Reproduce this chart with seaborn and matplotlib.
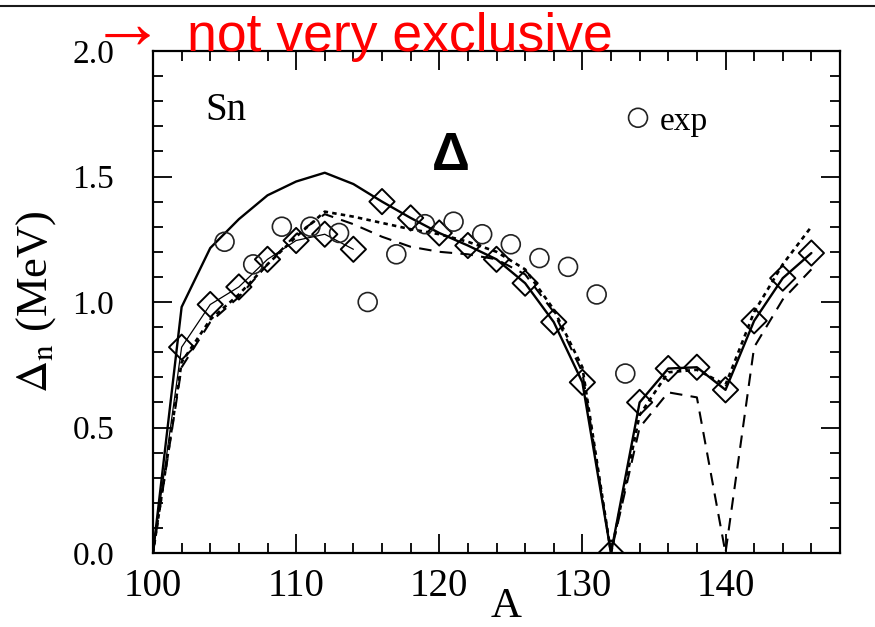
import numpy as np
import pandas as pd
import matplotlib
matplotlib.use("Agg")
import matplotlib.pyplot as plt
from matplotlib.lines import Line2D
from matplotlib.ticker import MultipleLocator
import seaborn as sns

# ---------------- data ----------------
A_grid = [100, 102, 104, 106, 108, 110, 112, 114, 116, 118, 120, 122,
          124, 126, 128, 130, 132, 134, 136, 138, 140, 142, 144, 146]
thick_solid = [0.0, 0.98, 1.215, 1.33, 1.425, 1.48, 1.515, 1.47, 1.40, 1.335,
               1.275, 1.225, 1.17, 1.075, 0.92, 0.68, 0.0, 0.60, 0.735, 0.74,
               0.65, 0.925, 1.095, 1.195]
dotted = [0.0, 0.76, 0.93, 1.03, 1.15, 1.26, 1.36, 1.34, 1.315, 1.29, 1.27,
          1.24, 1.20, 1.13, 0.97, 0.74, 0.0, 0.55, 0.72, 0.73, 0.67, 0.96,
          1.15, 1.30]
dashed = [0.0, 0.74, 0.92, 1.02, 1.15, 1.27, 1.35, 1.31, 1.26, 1.22, 1.20,
          1.19, 1.17, 1.11, 0.96, 0.72, 0.0, 0.50, 0.64, 0.62, 0.0, 0.82,
          1.01, 1.13]

A_thin = [100, 102, 104, 106, 108, 110, 112, 114]
thin_solid = [0.0, 0.82, 0.99, 1.06, 1.17, 1.245, 1.27, 1.21]

A_diam = [102, 104, 106, 108, 110, 112, 114, 116, 118, 120, 122, 124,
          126, 128, 130, 132, 134, 136, 138, 140, 142, 144, 146]
diamonds = [0.82, 0.99, 1.06, 1.17, 1.245, 1.27, 1.21, 1.40, 1.335, 1.275,
            1.225, 1.17, 1.075, 0.92, 0.68, 0.0, 0.60, 0.735, 0.74, 0.65,
            0.925, 1.095, 1.195]

A_exp = [105, 107, 109, 111, 113, 115, 117, 119, 121, 123, 125, 127, 129,
         131, 133]
exp_vals = [1.24, 1.15, 1.30, 1.30, 1.275, 1.00, 1.19, 1.31, 1.32, 1.27,
            1.23, 1.175, 1.14, 1.03, 0.715]

x_ticks = [100, 110, 120, 130, 140]
y_ticks = [0.0, 0.5, 1.0, 1.5, 2.0]

# ---------------- style ----------------
sns.set_theme(style="ticks")
plt.rcParams["font.family"] = ["Liberation Serif", "DejaVu Serif"]
plt.rcParams["mathtext.fontset"] = "stix"

fig = plt.figure(figsize=(8.75, 6.27), dpi=100)
ax = fig.add_axes([153 / 875, 1 - 553 / 627, (840 - 153) / 875, (553 - 51) / 627])

sns.lineplot(x=A_grid, y=thick_solid, ax=ax, color="black", linewidth=1.7,
             linestyle="-")
sns.lineplot(x=A_grid, y=dotted, ax=ax, color="black", linewidth=1.9,
             linestyle=(0, (1.7, 1.6)))
sns.lineplot(x=A_grid, y=dashed, ax=ax, color="black", linewidth=1.5,
             linestyle=(0, (6, 4)))
sns.lineplot(x=A_thin, y=thin_solid, ax=ax, color="black", linewidth=0.9,
             linestyle="-")
sns.scatterplot(x=A_diam, y=diamonds, ax=ax, marker="D", s=165,
                facecolor="none", edgecolor="black", linewidth=1.4, zorder=5)
sns.scatterplot(x=A_exp, y=exp_vals, ax=ax, marker="o", s=185,
                facecolor="none", edgecolor="#222222", linewidth=1.2, zorder=5)

ax.set_xlim(100, 148)
ax.set_ylim(0, 2.0)
ax.set_xticks(x_ticks)
ax.set_yticks(y_ticks)
ax.set_yticklabels([f"{v:.1f}" for v in y_ticks])
ax.xaxis.set_minor_locator(MultipleLocator(2))
ax.yaxis.set_minor_locator(MultipleLocator(0.1))
ax.tick_params(which="both", direction="in", top=True, right=True,
               width=1.3, color="black", labelcolor="black")
ax.tick_params(which="major", length=14)
ax.tick_params(which="minor", length=7)
ax.tick_params(axis="y", which="major", pad=28, labelsize=24)
ax.tick_params(axis="x", which="major", pad=11, labelsize=28)
for sp in ax.spines.values():
    sp.set_linewidth(1.6)
    sp.set_color("black")
    sp.set_visible(True)
ax.grid(False)

ax.set_xlabel("A", fontsize=31, color="black")
ax.set_ylabel(r"$\Delta_{\rm n}$ (MeV)", fontsize=32, color="black")
ax.xaxis.set_label_coords(0.514, -0.068)
ax.yaxis.set_label_coords(-0.138, 0.5)

# annotations inside axes
ax.text(0.076, 0.882, "Sn", transform=ax.transAxes, fontsize=28,
        ha="left", va="center", color="black")
ax.scatter([0.706], [0.867], transform=ax.transAxes, marker="o", s=185,
           facecolor="none", edgecolor="#222222", linewidth=1.2, clip_on=False)
ax.text(0.738, 0.860, "exp", transform=ax.transAxes, fontsize=24,
        ha="left", va="center", color="black")
ax.text(0.434, 0.79, "Δ", transform=ax.transAxes, fontsize=38,
        fontweight="bold", family=["Liberation Sans", "DejaVu Sans"],
        ha="center", va="center", color="black")

# slide decorations
fig.add_artist(Line2D([0, 1], [1 - 6 / 627, 1 - 6 / 627], color="#1a1a1a",
                      linewidth=1.5, transform=fig.transFigure))
fig.text(90 / 875, 1 - 48 / 627, "→", color="red", fontsize=54,
         family=["Liberation Serif", "DejaVu Sans"], ha="left", va="baseline")
fig.text(187 / 875, 1 - 51 / 627, "not very exclusive", color="red",
         fontsize=38.5, family=["Liberation Sans", "DejaVu Sans"],
         ha="left", va="baseline")

fig.savefig("out.png", dpi=100)
